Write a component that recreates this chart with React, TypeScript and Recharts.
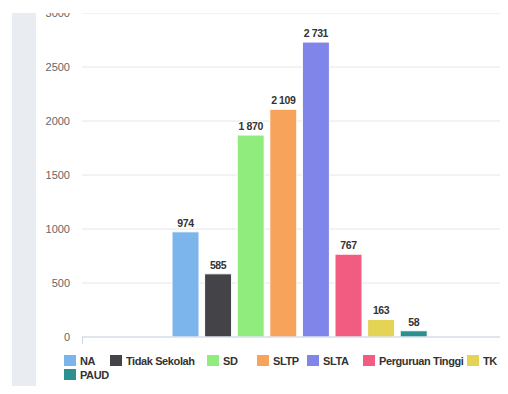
import React from 'react';
import { BarChart, Bar, XAxis, YAxis, CartesianGrid, LabelList } from 'recharts';

const seriesNames = ['NA', 'Tidak Sekolah', 'SD', 'SLTP', 'SLTA', 'Perguruan Tinggi', 'TK', 'PAUD'];
const seriesValues = [974, 585, 1870, 2109, 2731, 767, 163, 58];
const seriesColors = ['#7cb5ec', '#434348', '#90ed7d', '#f7a35c', '#8085e9', '#f15c80', '#e4d354', '#2b908f'];
const yTicks = [0, 500, 1000, 1500, 2000, 2500, 3000];

// legend layout: left offset and row of each item
const legendLeft = [64, 110, 207, 257, 307, 363, 467, 64];
const legendRow = [0, 0, 0, 0, 0, 0, 0, 1];

const FONT = '"Liberation Sans", Arial, sans-serif';

// one category, one key per series
const row: Record<string, string | number> = { name: 'Pendidikan' };
seriesNames.forEach((n, i) => {
    row[n] = seriesValues[i];
});
const data = [row];

// thousands separated by a non-breaking space so labels do not wrap
const fmt = (v: any) => String(v).replace(/\B(?=(\d{3})+(?!\d))/g, '\u00A0');

const ChartLegend = () => (
    <>
        {seriesNames.map((n, i) => (
            <div
                key={n}
                style={{
                    position: 'absolute',
                    left: legendLeft[i],
                    top: 353 + legendRow[i] * 14,
                    display: 'flex',
                    alignItems: 'center',
                    gap: 4,
                    height: 15,
                    whiteSpace: 'nowrap',
                    fontFamily: FONT,
                    fontSize: 11,
                    fontWeight: 'bold',
                    color: '#333',
                    letterSpacing: -0.4,
                }}
            >
                <div style={{ width: 12, height: 11, background: seriesColors[i] }}></div>
                <span>{n}</span>
            </div>
        ))}
    </>
);

export default function App() {
    return (
        <div style={{ position: 'relative', width: 508, height: 394, margin: -8, overflow: 'hidden', background: '#fff', fontFamily: FONT }}>
            <div style={{ position: 'absolute', left: 12, top: 13, width: 24, height: 381, background: '#e9ecf1' }}></div>
            <div style={{ position: 'absolute', left: 0, top: 0 }}>
                <BarChart
                    width={530}
                    height={394}
                    data={data}
                    margin={{ top: 13, right: 13, left: 0, bottom: 0 }}
                    barSize={27}
                    barGap={5.6}
                >
                    <CartesianGrid vertical={false} stroke="#e6e6e6" />
                    <XAxis dataKey="name" tick={false} tickLine={false} height={57} stroke="#ccd6eb" />
                    <YAxis
                        width={82}
                        domain={[0, 3000]}
                        ticks={yTicks}
                        interval={0}
                        axisLine={false}
                        tickLine={false}
                        tickSize={0}
                        tickMargin={12}
                        tick={{ fill: '#666', fontSize: 11, fontFamily: FONT }}
                    />
                    {seriesNames.map((n, i) => (
                        <Bar key={n} dataKey={n} fill={seriesColors[i]} stroke="#fff" strokeWidth={1} isAnimationActive={false}>
                            <LabelList
                                dataKey={n}
                                position="top"
                                offset={5}
                                formatter={fmt}
                                style={{ fill: '#333', fontSize: 10.5, fontWeight: 'bold', fontFamily: FONT, letterSpacing: -0.4, stroke: '#fff', strokeWidth: 2, paintOrder: 'stroke' }}
                            />
                        </Bar>
                    ))}
                </BarChart>
            </div>
            {/* category tick at left edge of the x axis */}
            <div style={{ position: 'absolute', left: 82, top: 337, width: 1, height: 7, background: '#ccd6eb' }}></div>
            {/* header strip covering the top */}
            <div style={{ position: 'absolute', left: 0, top: 0, width: 508, height: 13, background: '#fff' }}></div>
            <ChartLegend />
            <div style={{ position: 'absolute', left: 467, top: 385, fontSize: 9, color: '#999', fontFamily: FONT, whiteSpace: 'nowrap' }}>Highcharts.com</div>
        </div>
    );
}
